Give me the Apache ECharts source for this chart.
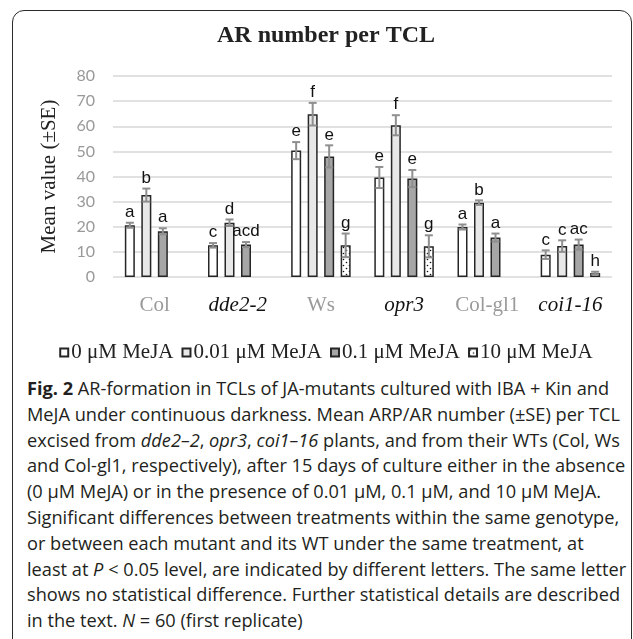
<!DOCTYPE html>
<html>
<head>
<meta charset="utf-8">
<script src="https://cdn.jsdelivr.net/npm/echarts@6/dist/echarts.min.js"></script>
<style>
  html, body { margin: 0; padding: 0; background: #fff; overflow: hidden; }
  body { width: 633px; height: 639px; position: relative; }
  #frame {
    position: absolute; left: 12px; top: 10px; width: 618px; height: 660px;
    border: 1.5px solid #2b2b2b; border-radius: 12px;
  }
  #chart { position: absolute; left: 0; top: 0; width: 652px; height: 372px; }
  #caption {
    position: absolute; left: 27px; top: 376px;
    font-family: "Open Sans", sans-serif; font-size: 18.2px; line-height: 25.8px;
    color: #231f20; white-space: nowrap;
  }
  #caption b { font-weight: 700; }
</style>
</head>
<body>
<div id="frame"></div>
<div id="chart"></div>
<div id="caption">
<div><b>Fig. 2</b> AR-formation in TCLs of JA-mutants cultured with IBA + Kin and</div>
<div>MeJA under continuous darkness. Mean ARP/AR number (±SE) per TCL</div>
<div>excised from <i>dde2–2</i>, <i>opr3</i>, <i>coi1–16</i> plants, and from their WTs (Col, Ws</div>
<div>and Col-gl1, respectively), after 15 days of culture either in the absence</div>
<div>(0 μM MeJA) or in the presence of 0.01 μM, 0.1 μM, and 10 μM MeJA.</div>
<div>Significant differences between treatments within the same genotype,</div>
<div>or between each mutant and its WT under the same treatment, at</div>
<div>least at <i>P</i> &lt; 0.05 level, are indicated by different letters. The same letter</div>
<div>shows no statistical difference. Further statistical details are described</div>
<div>in the text. <i>N</i> = 60 (first replicate)</div>
</div>
<script>
// genotypes (mutants in italic black, WTs in grey)
var genotypes = ['Col', 'dde2-2', 'Ws', 'opr3', 'Col-gl1', 'coi1-16'];
var mutants = ['dde2-2', 'opr3', 'coi1-16'];
var treatments = ['0 μM MeJA', '0.01 μM MeJA', '0.1 μM MeJA', '10 μM MeJA'];

// mean ARP/AR number per TCL, one array per treatment ('-' = not tested)
var mean0    = [20.6, 12.6, 50.3, 39.6, 19.9, 8.9];
var mean001  = [32.6, 21.6, 64.8, 60.4, 29.6, 12.3];
var mean01   = [18.2, 12.9, 48.0, 39.2, 15.7, 12.9];
var mean10   = ['-', '-', 12.6, 12.2, '-', 1.6];

// standard errors
var se0   = [1.0, 0.9, 3.4, 4.2, 1.0, 1.7];
var se001 = [2.6, 1.3, 4.5, 4.0, 0.9, 2.3];
var se01  = [1.2, 1.0, 4.4, 3.4, 1.6, 2.0];
var se10  = [0, 0, 4.7, 4.4, 0, 0.5];

// significance letters
var let0   = ['a', 'c', 'e', 'e', 'a', 'c'];
var let001 = ['b', 'd', 'f', 'f', 'b', 'c'];
var let01  = ['a', 'acd', 'e', 'e', 'a', 'ac'];
var let10  = ['', '', 'g', 'g', '', 'h'];

var means = [mean0, mean001, mean01, mean10];
var ses = [se0, se001, se01, se10];
var letters = [let0, let001, let01, let10];

var BAR_W = 10, BAR_GAP = 0.65;
var PITCH = BAR_W * (1 + BAR_GAP);

// dotted fill for 10 µM
function dotPattern() {
    var c = document.createElement('canvas');
    c.width = 6; c.height = 6;
    var ctx = c.getContext('2d');
    ctx.fillStyle = '#fff';
    ctx.fillRect(0, 0, 6, 6);
    ctx.fillStyle = '#111';
    ctx.beginPath(); ctx.arc(1.5, 1.5, 0.8, 0, Math.PI * 2); ctx.fill();
    ctx.beginPath(); ctx.arc(4.5, 4.5, 0.8, 0, Math.PI * 2); ctx.fill();
    return { image: c, repeat: 'repeat' };
}
var fills = ['#ffffff', '#e8e8e8', '#a6a6a6', dotPattern()];

var chart = echarts.init(document.getElementById('chart'));

var series = treatments.map(function (name, s) {
    return {
        name: name,
        type: 'bar',
        data: means[s],
        barWidth: BAR_W,
        barGap: (BAR_GAP * 100) + '%',
        itemStyle: { color: fills[s], borderColor: '#262626', borderWidth: 1.5 },
        emphasis: { disabled: true },
        z: 2
    };
});

// error bars + letters
var errData = [], errLetters = [];
means.forEach(function (arr, s) {
    arr.forEach(function (v, i) {
        if (v === '-') return;
        errData.push([i, v, ses[s][i], s]);
        errLetters.push(letters[s][i]);
    });
});

series.push({
    type: 'custom',
    name: 'err',
    data: errData,
    z: 5,
    silent: true,
    renderItem: function (params, api) {
        var i = api.value(0), m = api.value(1), e = api.value(2), s = api.value(3);
        var x = api.coord([i, 0])[0] + (s - 1.5) * PITCH;
        var yt = api.coord([i, m + e])[1];
        var yb = api.coord([i, Math.max(m - e, 0)])[1];
        var st = { stroke: '#8f8f8f', lineWidth: 2 };
        return {
            type: 'group',
            children: [
                { type: 'line', shape: { x1: x, y1: yt, x2: x, y2: yb }, style: st },
                { type: 'line', shape: { x1: x - 4, y1: yt, x2: x + 4, y2: yt }, style: st },
                { type: 'line', shape: { x1: x - 4, y1: yb, x2: x + 4, y2: yb }, style: st },
                {
                    type: 'text',
                    x: x, y: yt - 2,
                    style: {
                        text: errLetters[params.dataIndex],
                        fill: '#111',
                        font: '17px "Liberation Sans", Arial, sans-serif',
                        textAlign: 'center',
                        textVerticalAlign: 'bottom'
                    }
                }
            ]
        };
    }
});

chart.setOption({
    animation: false,
    title: {
        text: 'AR number per TCL',
        left: 'center',
        top: 24,
        padding: 0,
        textStyle: {
            fontFamily: '"Liberation Serif", serif',
            fontWeight: 'bold',
            fontSize: 24,
            color: '#222'
        }
    },
    legend: {
        data: treatments,
        left: 'center',
        top: 337,
        icon: 'rect',
        itemWidth: 8,
        itemHeight: 8,
        itemGap: 8,
        textStyle: {
            fontFamily: '"Liberation Serif", serif',
            fontSize: 21,
            color: '#222',
            padding: [0, 0, 0, -2]
        }
    },
    grid: { left: 113, top: 76, width: 499, height: 201 },
    xAxis: {
        type: 'category',
        data: genotypes,
        axisLine: { show: false },
        axisTick: { show: false },
        axisLabel: {
            margin: 18,
            interval: 0,
            formatter: function (v) {
                return mutants.indexOf(v) >= 0 ? '{mut|' + v + '}' : '{wt|' + v + '}';
            },
            rich: {
                wt: { fontFamily: '"Liberation Serif", serif', fontSize: 21, color: '#9a9a9a' },
                mut: { fontFamily: '"Liberation Serif", serif', fontSize: 21, color: '#111', fontStyle: 'italic' }
            }
        }
    },
    yAxis: {
        type: 'value',
        min: 0,
        max: 80,
        interval: 10,
        name: 'Mean value (±SE)',
        nameLocation: 'middle',
        nameGap: 53,
        nameTextStyle: {
            fontFamily: '"Liberation Serif", serif',
            fontSize: 21,
            color: '#222'
        },
        axisLabel: {
            margin: 18,
            fontFamily: 'Lato, "Open Sans", sans-serif',
            fontSize: 16,
            color: '#999'
        },
        splitLine: { lineStyle: { color: '#e1e1e1', width: 2 } }
    },
    series: series
});
</script>
</body>
</html>
